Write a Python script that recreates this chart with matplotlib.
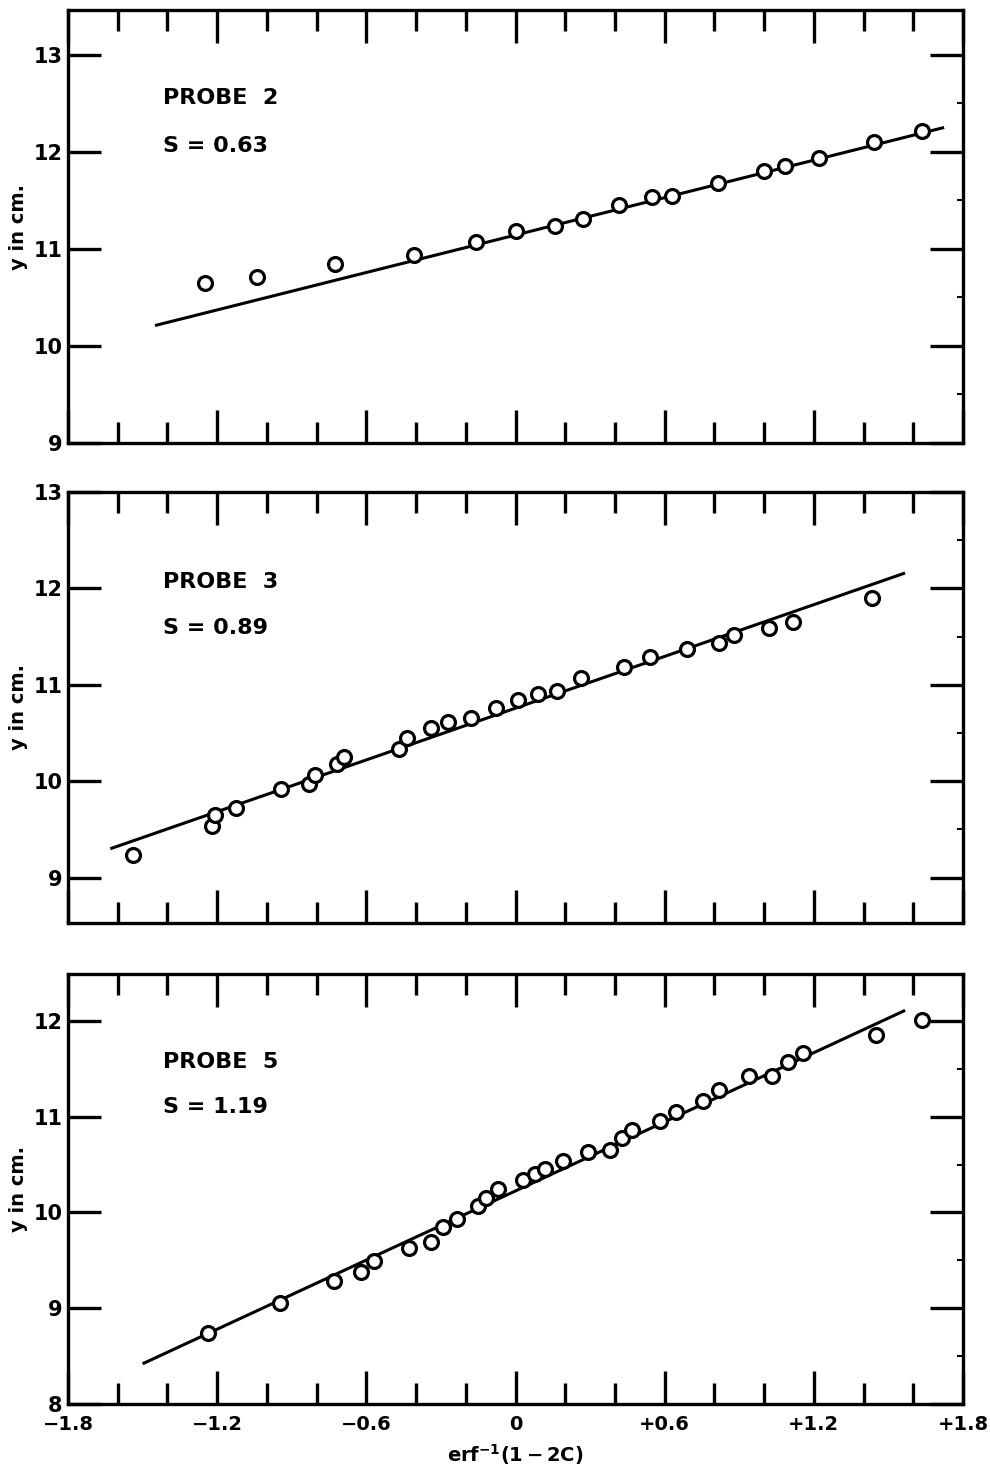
import matplotlib
matplotlib.use("Agg")
import matplotlib.pyplot as plt
from matplotlib.ticker import MultipleLocator, FixedLocator

plt.rcParams['font.family'] = ['DejaVu Sans']
plt.rcParams['mathtext.fontset'] = 'dejavusans'

# ---- data ----
p2_x = [-1.25, -1.04, -0.725, -0.41, -0.16, 0.0, 0.157, 0.27, 0.415, 0.55, 0.63, 0.815, 1.0, 1.083, 1.22, 1.44, 1.635]
p2_y = [10.65, 10.71, 10.84, 10.94, 11.07, 11.18, 11.24, 11.31, 11.45, 11.53, 11.54, 11.68, 11.80, 11.85, 11.94, 12.10, 12.21]
p2_line_x = [-1.45, 1.724]
p2_line_y = [10.21, 12.25]

p3_x = [-1.54, -1.22, -1.21, -1.125, -0.945, -0.83, -0.805, -0.72, -0.69, -0.467, -0.435, -0.34, -0.27, -0.177,
        -0.08, 0.01, 0.09, 0.165, 0.265, 0.435, 0.54, 0.69, 0.82, 0.88, 1.02, 1.115, 1.435]
p3_y = [9.24, 9.54, 9.65, 9.72, 9.92, 9.97, 10.07, 10.18, 10.25, 10.33, 10.45, 10.55, 10.61, 10.66,
        10.76, 10.84, 10.90, 10.94, 11.07, 11.19, 11.29, 11.37, 11.43, 11.52, 11.59, 11.65, 11.90]
p3_line_x = [-1.63, 1.567]
p3_line_y = [9.30, 12.16]

p5_x = [-1.236, -0.946, -0.73, -0.62, -0.57, -0.43, -0.34, -0.29, -0.234, -0.15, -0.12, -0.07, 0.03, 0.077,
        0.12, 0.19, 0.29, 0.38, 0.427, 0.47, 0.58, 0.645, 0.753, 0.82, 0.94, 1.03, 1.095, 1.156, 1.45, 1.635]
p5_y = [8.74, 9.05, 9.28, 9.38, 9.49, 9.63, 9.69, 9.85, 9.93, 10.07, 10.15, 10.24, 10.34, 10.40,
        10.45, 10.54, 10.63, 10.65, 10.78, 10.86, 10.95, 11.05, 11.16, 11.28, 11.43, 11.43, 11.57, 11.67, 11.85, 12.01]
p5_line_x = [-1.5, 1.567]
p5_line_y = [8.42, 12.11]

probe_names = ["PROBE  2", "PROBE  3", "PROBE  5"]
s_labels = ["S = 0.63", "S = 0.89", "S = 1.19"]
ylims = [(9, 13.46), (8.53, 13.0), (8.0, 12.49)]
yticks = [[9, 10, 11, 12, 13], [9, 10, 11, 12, 13], [8, 9, 10, 11, 12]]
xtick_vals = [-1.8, -1.2, -0.6, 0, 0.6, 1.2, 1.8]
xtick_labels = ["\u22121.8", "\u22121.2", "\u22120.6", "0", "+0.6", "+1.2", "+1.8"]

fig = plt.figure(figsize=(9.9, 14.74), dpi=100)
W, H = 990, 1474
boxes = [(10, 443), (492, 923), (974, 1404)]
left_px, right_px = 68, 963

data = [(p2_x, p2_y, p2_line_x, p2_line_y), (p3_x, p3_y, p3_line_x, p3_line_y), (p5_x, p5_y, p5_line_x, p5_line_y)]
text_pos = [(98, 146), (582, 628), (1062, 1107)]

for i, ((top, bot), (xs, ys, lx, ly)) in enumerate(zip(boxes, data)):
    ax = fig.add_axes([left_px / W, 1 - bot / H, (right_px - left_px) / W, (bot - top) / H])
    ax.plot(lx, ly, color='black', lw=2.2, solid_capstyle='butt', zorder=2)
    ax.plot(xs, ys, 'o', ms=10, mfc='white', mec='black', mew=2.3, zorder=3)
    ax.set_xlim(-1.8, 1.8)
    ax.set_ylim(*ylims[i])
    for s in ax.spines.values():
        s.set_linewidth(2.4)
    ax.xaxis.set_major_locator(FixedLocator(xtick_vals))
    ax.xaxis.set_minor_locator(MultipleLocator(0.2))
    ax.yaxis.set_major_locator(FixedLocator(yticks[i]))
    ax.yaxis.set_minor_locator(MultipleLocator(0.5))
    ax.tick_params(axis='x', which='major', direction='in', length=24, width=2.4, top=True, bottom=True, pad=8)
    ax.tick_params(axis='x', which='minor', direction='in', length=15, width=2.4, top=True, bottom=True)
    ax.tick_params(axis='y', which='major', direction='in', length=24, width=2.4, left=True, right=True, pad=4)
    ax.tick_params(axis='y', which='minor', direction='in', length=4, width=1.5, left=False, right=True)
    ax.set_yticklabels([str(v) for v in yticks[i]], fontsize=15, fontweight='bold')
    if i == 2:
        ax.set_xticklabels(xtick_labels, fontsize=14, fontweight='bold')
        ax.set_xlabel(r"$\mathbf{erf^{-1}(1-2C)}$", fontsize=14, labelpad=6)
    else:
        ax.set_xticklabels([])
    ax.set_ylabel("y in cm.", fontsize=14, fontweight='bold', labelpad=4)
    # annotations
    ty1, ty2 = text_pos[i]
    fig.text(163 / W, 1 - ty1 / H, probe_names[i], fontsize=16, fontweight='bold', va='center', ha='left')
    fig.text(163 / W, 1 - ty2 / H, s_labels[i], fontsize=16, fontweight='bold', va='center', ha='left')

fig.savefig("out.png", dpi=100)
